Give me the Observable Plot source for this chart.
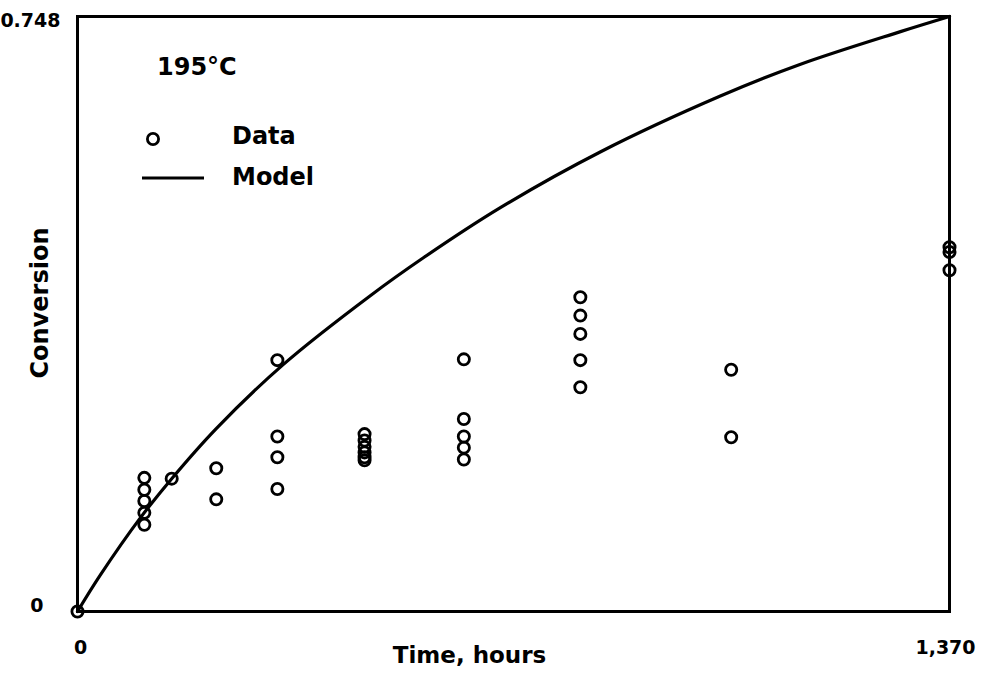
<!DOCTYPE html>
<html>
<head>
<meta charset="utf-8">
<script src="https://cdn.jsdelivr.net/npm/d3@7"></script>
<script src="https://cdn.jsdelivr.net/npm/@observablehq/plot@0.6"></script>
<style>
  html, body { margin: 0; padding: 0; background: #fff; }
  #wrap { position: relative; width: 985px; height: 681px; font-family: "DejaVu Sans", sans-serif; }
  .leg { position: absolute; font-weight: bold; font-size: 24px; line-height: 1; color: #000; white-space: nowrap; }
</style>
</head>
<body>
<div id="wrap"></div>
<script>
// Data (time in hours, conversion)
const dataTime = [0, 105,105,105,105,105, 148, 218,218, 314,314,314,314, 451,451,451,451,451,451, 607,607,607,607,607, 790,790,790,790,790, 1027,1027, 1370,1370,1370];
const dataConv = [0, 0.168,0.153,0.139,0.124,0.109, 0.167, 0.180,0.141, 0.316,0.220,0.194,0.154, 0.223,0.215,0.207,0.200,0.194,0.190, 0.317,0.242,0.220,0.206,0.191, 0.395,0.372,0.349,0.316,0.282, 0.304,0.219, 0.458,0.452,0.429];
// Model curve
const modelTime = [0, 36, 99, 148, 218, 324, 460, 544, 665, 822, 1010, 1136, 1293, 1370];
const modelConv = [0, 0.046, 0.118, 0.167, 0.230, 0.311, 0.397, 0.445, 0.508, 0.578, 0.648, 0.688, 0.729, 0.748];
const xTicks = [0, 1370];
const yTicks = [0, 0.748];

const points = dataTime.map((t, i) => ({t, c: dataConv[i]}));
const model = modelTime.map((t, i) => ({t, c: modelConv[i]}));
const F = "DejaVu Sans, sans-serif";

const chart = Plot.plot({
  width: 985, height: 681,
  marginLeft: 77, marginRight: 36, marginTop: 16, marginBottom: 70,
  style: {fontFamily: F, fontWeight: "bold", background: "#fff", color: "#000"},
  x: {domain: [0, 1370]},
  y: {domain: [0, 0.748]},
  marks: [
    Plot.line(model, {x: "t", y: "c", curve: "catmull-rom", stroke: "#000", strokeWidth: 3.2}),
    Plot.dot(points, {x: "t", y: "c", r: 5.6, stroke: "#000", strokeWidth: 2.8, fill: "none"}),
    Plot.frame({stroke: "#000", strokeWidth: 3}),
    Plot.axisX({ticks: [xTicks[0]], tickFormat: d3.format(","), tickSize: 0, tickPadding: 29, fontSize: 19, dx: 3, label: null}),
    Plot.axisX({ticks: [xTicks[1]], tickFormat: d3.format(","), tickSize: 0, tickPadding: 29, fontSize: 19, dx: -4, label: null}),
    Plot.axisY({ticks: [yTicks[1]], tickFormat: d => String(d), tickSize: 0, tickPadding: 17, fontSize: 19, label: null, dy: 4}),
    Plot.axisY({ticks: [yTicks[0]], tickFormat: d => String(d), tickSize: 0, tickPadding: 34, fontSize: 19, label: null, dy: -6}),
    Plot.text(["Time, hours"], {frameAnchor: "bottom", textAnchor: "middle", dx: -44, dy: 51, fontSize: 23, fontWeight: "bold", fill: "#000"}),
    Plot.text(["Conversion"], {frameAnchor: "left", textAnchor: "middle", rotate: -90, dx: -37, dy: -11, fontSize: 24, fontWeight: "bold", fill: "#000"})
  ]
});
const wrap = document.getElementById("wrap");
wrap.appendChild(chart);

// Legend overlay
const legend = `
  <div class="leg" style="left:157px; top:55px;">195°C</div>
  <svg style="position:absolute; left:138px; top:124px;" width="70" height="60">
    <circle cx="15" cy="15" r="5.6" fill="none" stroke="#000" stroke-width="2.8"/>
    <line x1="4" x2="66" y1="54" y2="54" stroke="#000" stroke-width="3.2"/>
  </svg>
  <div class="leg" style="left:232px; top:124px;">Data</div>
  <div class="leg" style="left:232px; top:165px;">Model</div>`;
wrap.insertAdjacentHTML("beforeend", legend);
</script>
</body>
</html>
